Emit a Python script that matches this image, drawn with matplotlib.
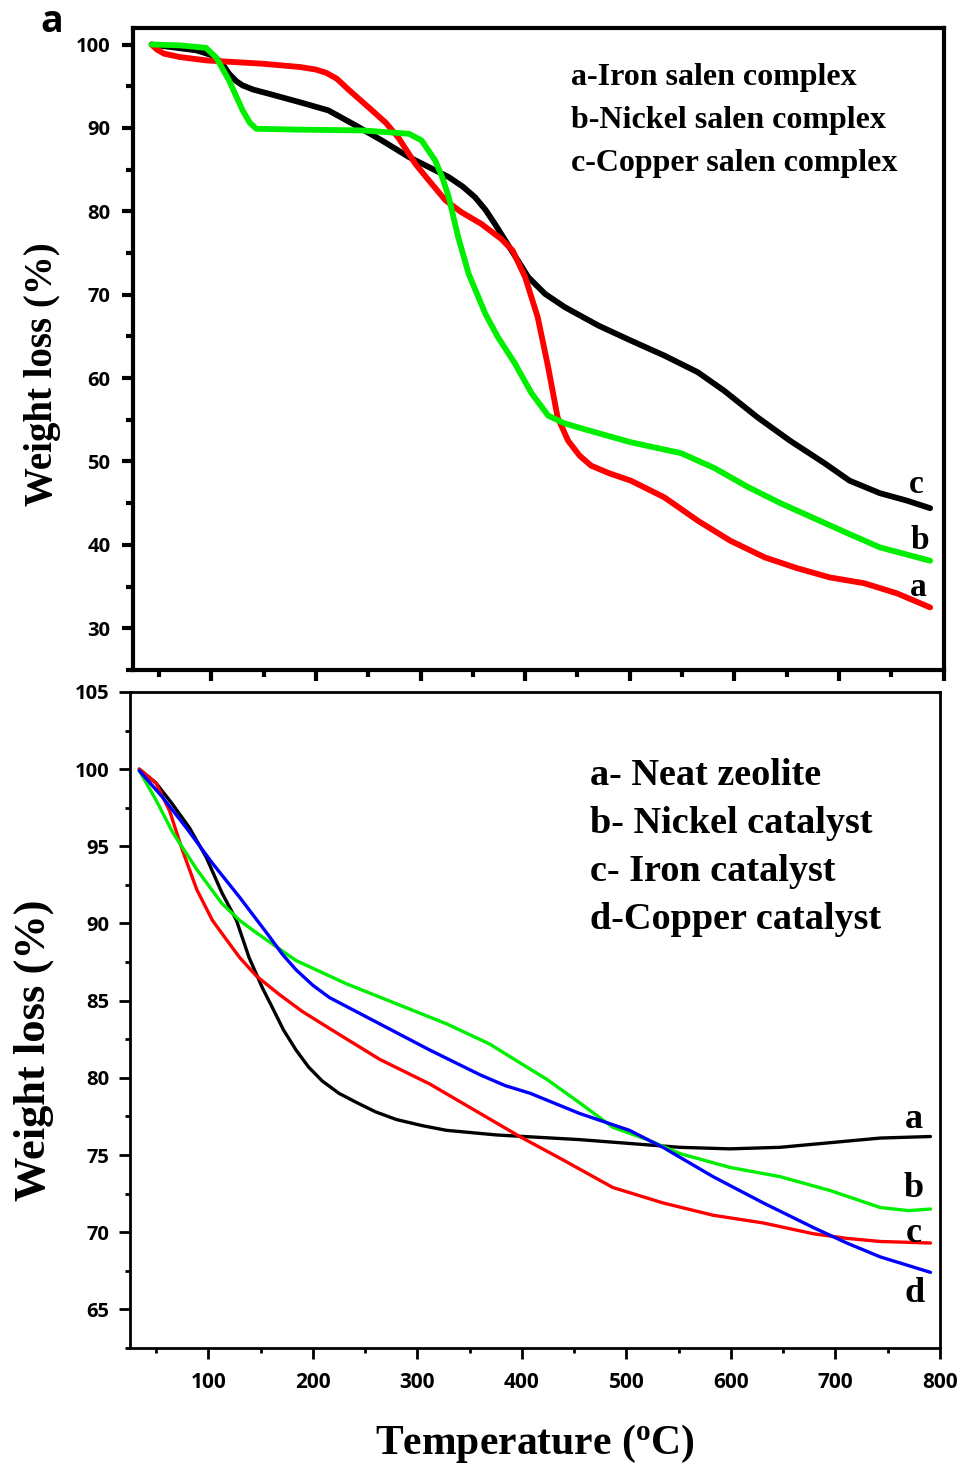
import matplotlib
matplotlib.use("Agg")
import matplotlib.pyplot as plt
from matplotlib.ticker import MultipleLocator, NullFormatter

# ---------------- data: top panel (salen complexes) ----------------
iron_complex_T = [43, 48, 55, 70, 95, 149, 185, 200, 210, 220, 232, 251, 267, 279, 295, 308, 324,
                  339, 358, 377, 388, 400, 412, 422, 431, 441, 452, 463, 480, 501, 533, 565, 596,
                  629, 660, 691, 724, 755, 787]
iron_complex_W = [100, 99.4, 98.9, 98.5, 98.1, 97.7, 97.3, 97.0, 96.6, 95.9, 94.5, 92.4, 90.6,
                  88.8, 85.7, 83.7, 81.3, 79.9, 78.5, 76.7, 75.3, 72.1, 67.3, 61.3, 55.3, 52.5,
                  50.7, 49.5, 48.6, 47.7, 45.7, 42.9, 40.5, 38.5, 37.2, 36.1, 35.4, 34.2, 32.5]

nickel_complex_T = [43, 70, 95, 105, 117, 130, 137, 143, 181, 244, 289, 301, 314, 321, 327, 336,
                    346, 362, 374, 390, 406, 422, 437, 453, 501, 549, 581, 612, 644, 676, 708,
                    739, 787]
nickel_complex_W = [100, 99.9, 99.6, 98.4, 95.7, 92.1, 90.6, 89.9, 89.8, 89.7, 89.3, 88.5, 86.1,
                    84.0, 81.7, 76.9, 72.5, 67.7, 64.9, 61.8, 58.2, 55.5, 54.6, 54.0, 52.3, 51.0,
                    49.2, 47.0, 45.0, 43.2, 41.4, 39.7, 38.1]

copper_complex_T = [43, 86, 101, 110, 117, 124, 130, 140, 155, 187, 212, 238, 263, 289, 308, 327,
                    340, 352, 362, 371, 387, 403, 419, 438, 470, 501, 533, 565, 590, 622, 653,
                    686, 710, 739, 765, 787]
copper_complex_W = [100, 99.3, 98.7, 97.8, 96.5, 95.6, 95.1, 94.6, 94.1, 93.0, 92.1, 90.3, 88.5,
                    86.5, 85.3, 84.1, 83.0, 81.7, 80.2, 78.5, 75.3, 72.1, 70.1, 68.5, 66.3, 64.5,
                    62.7, 60.7, 58.5, 55.3, 52.5, 49.8, 47.7, 46.2, 45.3, 44.4]

top_legend = ["a-Iron salen complex", "b-Nickel salen complex", "c-Copper salen complex"]

# ---------------- data: bottom panel (catalysts) ----------------
zeolite_T = [34, 50, 65, 82, 98, 113, 127, 139, 152, 161, 172, 184, 196, 209, 225, 242, 260, 280,
             305, 328, 376, 455, 551, 599, 647, 695, 743, 791]
zeolite_W = [100, 99.1, 97.8, 96.2, 94.3, 92.0, 90.2, 87.8, 85.8, 84.6, 83.1, 81.8, 80.7, 79.8,
             79.0, 78.4, 77.8, 77.3, 76.9, 76.6, 76.3, 76.0, 75.5, 75.4, 75.5, 75.8, 76.1, 76.2]

nickel_cat_T = [34, 50, 66, 89, 113, 130, 146, 165, 184, 232, 280, 328, 369, 400, 424, 455, 487,
                520, 551, 599, 647, 695, 743, 770, 791]
nickel_cat_W = [99.9, 98.0, 95.9, 93.5, 91.3, 90.2, 89.4, 88.5, 87.6, 86.1, 84.8, 83.5, 82.2,
                80.9, 79.9, 78.4, 76.8, 76.0, 75.1, 74.2, 73.6, 72.7, 71.6, 71.4, 71.5]

iron_cat_T = [34, 50, 63, 75, 89, 104, 118, 130, 146, 168, 190, 216, 240, 264, 312, 360, 398,
              439, 487, 535, 583, 631, 679, 711, 743, 791]
iron_cat_W = [100, 99.1, 97.3, 94.8, 92.2, 90.2, 88.9, 87.8, 86.6, 85.4, 84.3, 83.2, 82.2, 81.2,
              79.6, 77.7, 76.2, 74.7, 72.9, 71.9, 71.1, 70.6, 69.9, 69.6, 69.4, 69.3]

copper_cat_T = [34, 56, 79, 104, 130, 158, 171, 184, 200, 216, 264, 312, 336, 360, 384, 408, 455,
                503, 535, 583, 631, 679, 711, 743, 791]
copper_cat_W = [99.9, 98.2, 96.2, 93.9, 91.7, 89.2, 88.0, 87.0, 86.0, 85.2, 83.5, 81.8, 81.0,
                80.2, 79.5, 79.0, 77.7, 76.6, 75.5, 73.6, 71.9, 70.3, 69.3, 68.4, 67.4]

bottom_legend = ["a- Neat zeolite", "b- Nickel catalyst", "c- Iron catalyst", "d-Copper catalyst"]

x_ticks = [100, 200, 300, 400, 500, 600, 700, 800]
top_y_ticks = [30, 40, 50, 60, 70, 80, 90, 100]
bottom_y_ticks = [65, 70, 75, 80, 85, 90, 95, 100, 105]

RED, GREEN, BLUE, BLACK = "#ff0000", "#00ee00", "#0000ff", "#000000"
SERIF = "Liberation Serif"
SANS = "Open Sans"

fig = plt.figure(figsize=(9.62, 14.66), dpi=100)

# ---------- top panel ----------
ax1 = fig.add_axes([0.138, 0.543, 0.843, 0.438])
lw1 = 4.2
kw1 = dict(lw=lw1, solid_joinstyle="round", solid_capstyle="round")
ax1.plot(copper_complex_T, copper_complex_W, color=BLACK, **kw1)
ax1.plot(iron_complex_T, iron_complex_W, color=RED, **kw1)
ax1.plot(nickel_complex_T, nickel_complex_W, color=GREEN, **kw1)
ax1.set_xlim(25, 800)
ax1.set_ylim(25, 102)
ax1.set_xticks(x_ticks)
ax1.xaxis.set_minor_locator(MultipleLocator(50))
ax1.xaxis.set_major_formatter(NullFormatter())
ax1.set_yticks(top_y_ticks)
ax1.yaxis.set_minor_locator(MultipleLocator(5))
for s in ax1.spines.values():
    s.set_linewidth(3)
ax1.tick_params(axis="both", which="major", direction="out", length=8, width=3, pad=8)
ax1.tick_params(axis="both", which="minor", direction="out", length=5, width=3)
for lab in ax1.get_yticklabels():
    lab.set_fontfamily(SANS)
    lab.set_fontweight("bold")
    lab.set_fontsize(14.5)
ax1.set_ylabel("Weight loss (%)", fontfamily=SERIF, fontweight="bold", fontsize=28)
ax1.yaxis.set_label_coords(-0.089, 0.46)
for i, t in enumerate(top_legend):
    ax1.text(0.54, 0.923 - i * 0.067, t, transform=ax1.transAxes, fontfamily=SERIF,
             fontweight="bold", fontsize=23, va="center", ha="left")
ax1.text(774, 47.3, "c", fontfamily=SERIF, fontweight="bold", fontsize=24, ha="center", va="center")
ax1.text(777, 40.5, "b", fontfamily=SERIF, fontweight="bold", fontsize=24, ha="center", va="center")
ax1.text(776, 34.9, "a", fontfamily=SERIF, fontweight="bold", fontsize=24, ha="center", va="center")
fig.text(0.054, 0.985, "a", fontfamily=SANS, fontweight="bold", fontsize=27, ha="center", va="center")

# ---------- bottom panel ----------
ax2 = fig.add_axes([0.135, 0.0805, 0.842, 0.4475])
lw2 = 2.4
kw2 = dict(lw=lw2, solid_joinstyle="round", solid_capstyle="round")
ax2.plot(zeolite_T, zeolite_W, color=BLACK, **kw2)
ax2.plot(iron_cat_T, iron_cat_W, color=RED, **kw2)
ax2.plot(nickel_cat_T, nickel_cat_W, color=GREEN, **kw2)
ax2.plot(copper_cat_T, copper_cat_W, color=BLUE, **kw2)
ax2.set_xlim(25, 800)
ax2.set_ylim(62.5, 105)
ax2.set_xticks(x_ticks)
ax2.xaxis.set_minor_locator(MultipleLocator(50))
ax2.set_yticks(bottom_y_ticks)
ax2.yaxis.set_minor_locator(MultipleLocator(2.5))
for s in ax2.spines.values():
    s.set_linewidth(2)
ax2.tick_params(axis="both", which="major", direction="out", length=8, width=2)
ax2.tick_params(axis="both", which="minor", direction="out", length=3.5, width=2)
ax2.tick_params(axis="x", which="major", pad=9)
ax2.tick_params(axis="y", which="major", pad=7)
for lab in ax2.get_yticklabels():
    lab.set_fontfamily(SANS)
    lab.set_fontweight("bold")
    lab.set_fontsize(14.5)
for lab in ax2.get_xticklabels():
    lab.set_fontfamily(SANS)
    lab.set_fontweight("bold")
    lab.set_fontsize(15)
ax2.set_ylabel("Weight loss (%)", fontfamily=SERIF, fontweight="bold", fontsize=32)
ax2.yaxis.set_label_coords(-0.094, 0.454)
ax2.set_xlabel("Temperature ($\\mathregular{^o}$C)", fontfamily=SERIF, fontweight="bold", fontsize=30, labelpad=22)
for i, t in enumerate(bottom_legend):
    ax2.text(0.568, 0.872 - i * 0.073, t, transform=ax2.transAxes, fontfamily=SERIF,
             fontweight="bold", fontsize=27.5, va="center", ha="left")
ax2.text(775, 77.3, "a", fontfamily=SERIF, fontweight="bold", fontsize=26, ha="center", va="center")
ax2.text(775, 72.8, "b", fontfamily=SERIF, fontweight="bold", fontsize=26, ha="center", va="center")
ax2.text(775, 69.9, "c", fontfamily=SERIF, fontweight="bold", fontsize=26, ha="center", va="center")
ax2.text(776, 66.0, "d", fontfamily=SERIF, fontweight="bold", fontsize=26, ha="center", va="center")

fig.savefig("out.png", dpi=100)
